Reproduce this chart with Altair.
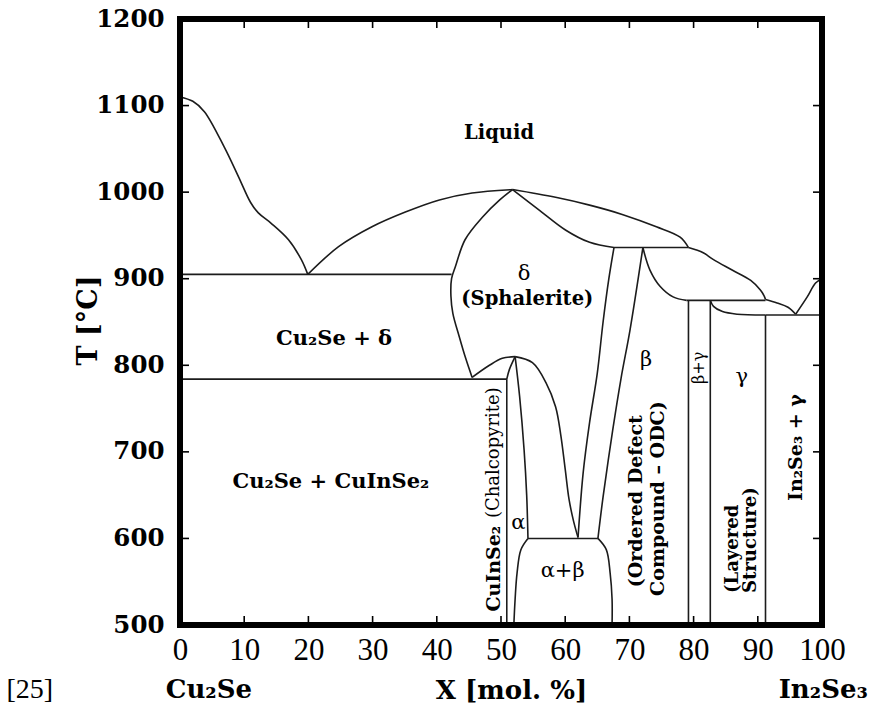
import altair as alt
import pandas as pd

# ---------------- phase boundaries: X [mol.% In2Se3], T [°C] ----------------
liq_cu2se_x = [0, 2.0, 3.8, 6.9, 9.1, 11.0, 12.2, 14.2, 16.9, 18.9, 19.9]
liq_cu2se_t = [1110, 1105, 1093, 1052, 1018, 988, 976, 964, 945, 922, 905]

liq_delta_x = [19.9, 24.7, 29.9, 35.1, 40.4, 45.5, 51.8]
liq_delta_t = [905, 937, 960, 977, 991, 999, 1003]

liq_beta_x = [51.8, 58.5, 63.8, 69.0, 74.2, 77.9, 79.2]
liq_beta_t = [1003, 994, 985, 974, 960, 948, 936]

liq_gamma_x = [79.2, 81.5, 83.1, 86.0, 88.9, 90.4, 91.0, 91.2]
liq_gamma_t = [936, 930, 922, 910, 898, 887, 880, 876]

liq_eut_x = [91.2, 93.0, 94.7, 95.9]
liq_eut_t = [876, 872, 867, 859]

liq_in2se3_x = [95.9, 97.7, 99.0, 100]
liq_in2se3_t = [859, 879, 895, 900]

delta_left_x = [51.8, 49.8, 47.1, 44.4, 42.9, 42.3, 42.2, 42.5, 43.5, 44.5, 45.5]
delta_left_t = [1003, 991, 971, 945, 914, 900, 880, 860, 833, 808, 786]

delta_low_x = [45.5, 48.2, 50.2, 52.2]
delta_low_t = [786, 800, 808, 810]

delta_beta_x = [52.2, 54.9, 57.0, 58.5, 59.3, 60.0, 60.6, 61.3, 62.0]
delta_beta_t = [810, 803, 780, 752, 720, 680, 645, 620, 601]

delta_right_x = [51.8, 56.0, 60.1, 63.8, 67.6]
delta_right_t = [1003, 979, 956, 942, 936]

alpha_left_x = [52.2, 51.3, 50.9]
alpha_left_t = [810, 795, 784]

alpha_right_x = [52.2, 52.9, 53.6, 54.0, 54.2]
alpha_right_t = [810, 764, 702, 650, 600]

ab_left_x = [54.2, 53.1, 52.5, 52.2, 52.0]
ab_left_t = [600, 587, 560, 530, 500]

ab_right_x = [65.1, 66.4, 67.0, 67.3, 67.3]
ab_right_t = [600, 587, 560, 530, 500]

beta_left_x = [62.0, 62.8, 63.8, 65.0, 65.9, 66.8, 67.6]
beta_left_t = [601, 676, 734, 791, 850, 900, 936]

beta_right_x = [65.1, 65.9, 67.4, 68.7, 70.1, 72.1]
beta_right_t = [600, 648, 725, 785, 841, 936]

beta_top_x = [72.1, 73.2, 74.8, 76.8, 78.9]
beta_top_t = [936, 910, 891, 879, 875]

gamma_top_x = [82.6, 83.1, 84.5, 86.8, 91.2]
gamma_top_t = [875, 868, 862, 859, 858]

# straight isotherms and vertical phase limits
straight = {
    "iso905": ([0, 42.3], [905, 905]),
    "iso784": ([0, 50.9], [784, 784]),
    "alpha_v": ([50.9, 50.9], [784, 500]),
    "iso600": ([54.2, 65.1], [600, 600]),
    "iso936": ([67.6, 79.2], [936, 936]),
    "iso875": ([78.9, 91.2], [875, 875]),
    "iso858": ([91.2, 100], [858, 858]),
    "v79": ([79.2, 79.2], [875, 500]),
    "v82": ([82.6, 82.6], [875, 500]),
    "v91": ([91.2, 91.2], [858, 500]),
}

curves = {
    "liq_cu2se": (liq_cu2se_x, liq_cu2se_t),
    "liq_delta": (liq_delta_x, liq_delta_t),
    "liq_beta": (liq_beta_x, liq_beta_t),
    "liq_gamma": (liq_gamma_x, liq_gamma_t),
    "liq_eut": (liq_eut_x, liq_eut_t),
    "liq_in2se3": (liq_in2se3_x, liq_in2se3_t),
    "delta_left": (delta_left_x, delta_left_t),
    "delta_low": (delta_low_x, delta_low_t),
    "delta_beta": (delta_beta_x, delta_beta_t),
    "delta_right": (delta_right_x, delta_right_t),
    "alpha_left": (alpha_left_x, alpha_left_t),
    "alpha_right": (alpha_right_x, alpha_right_t),
    "ab_left": (ab_left_x, ab_left_t),
    "ab_right": (ab_right_x, ab_right_t),
    "beta_left": (beta_left_x, beta_left_t),
    "beta_right": (beta_right_x, beta_right_t),
    "beta_top": (beta_top_x, beta_top_t),
    "gamma_top": (gamma_top_x, gamma_top_t),
}
curves.update(straight)

rows = []
for name, (xs_, ts_) in curves.items():
    for i, (xv, tv) in enumerate(zip(xs_, ts_)):
        rows.append({"seg": name, "i": i, "X": xv, "T": tv})
lines_df = pd.DataFrame(rows)

# ---------------- axes ----------------
x_ticks = [0, 10, 20, 30, 40, 50, 60, 70, 80, 90, 100]
t_ticks = [500, 600, 700, 800, 900, 1000, 1100, 1200]

W, H = 642, 606
SERIF = "DejaVu Serif"
TIMES = "Liberation Serif"

x_scale = alt.Scale(domain=[0, 100], nice=False, zero=False)
y_scale = alt.Scale(domain=[500, 1200], nice=False, zero=False)

x_axis = alt.Axis(
    values=x_ticks, ticks=False, domain=False, grid=False, format="d",
    labelFont=TIMES, labelFontSize=31, labelColor="black", labelPadding=10,
    labelFlush=False,
    title="X [mol. %]", titleFont=SERIF, titleFontWeight="bold",
    titleFontSize=26, titleColor="black",
    titleX=331, titleY=65, titleAlign="center", titleBaseline="middle",
)
y_axis = alt.Axis(
    values=t_ticks, ticks=False, domain=False, grid=False, format="d",
    labelFont=SERIF, labelFontWeight="bold", labelFontSize=24.5,
    labelColor="black", labelPadding=16,
    title="T [°C]", titleFont=SERIF, titleFontWeight="bold",
    titleFontSize=27, titleColor="black", titleAngle=270,
    titleX=-92, titleY=301, titleAlign="center", titleBaseline="middle",
)

X_ENC = alt.X("X:Q", scale=x_scale, axis=x_axis)
Y_ENC = alt.Y("T:Q", scale=y_scale, axis=y_axis)

boundaries = alt.Chart(lines_df).mark_line(
    interpolate="catmull-rom", color="#1c1c1c", strokeWidth=1.6
).encode(x=X_ENC, y=Y_ENC, detail="seg:N", order="i:Q")

# heavy frame round the plot area, one rule per side
one = pd.DataFrame({"k": [0]})
frame_style = dict(color="black", strokeWidth=6, strokeCap="square")
frame_top = alt.Chart(one).mark_rule(**frame_style).encode(
    x=alt.value(0), x2=alt.value(W), y=alt.value(0))
frame_bottom = alt.Chart(one).mark_rule(**frame_style).encode(
    x=alt.value(0), x2=alt.value(W), y=alt.value(H))
frame_left = alt.Chart(one).mark_rule(**frame_style).encode(
    y=alt.value(0), y2=alt.value(H), x=alt.value(0))
frame_right = alt.Chart(one).mark_rule(**frame_style).encode(
    y=alt.value(0), y2=alt.value(H), x=alt.value(W))

# inward tick marks on all four sides
xt_df = pd.DataFrame({"X": x_ticks})
tt_df = pd.DataFrame({"T": t_ticks})
tick_style = dict(color="black", strokeWidth=1.6)
ticks_bottom = alt.Chart(xt_df).mark_rule(**tick_style).encode(
    x=X_ENC, y=alt.value(H), y2=alt.value(H - 9))
ticks_top = alt.Chart(xt_df).mark_rule(**tick_style).encode(
    x=X_ENC, y=alt.value(0), y2=alt.value(9))
ticks_left = alt.Chart(tt_df).mark_rule(**tick_style).encode(
    y=Y_ENC, x=alt.value(0), x2=alt.value(9))
ticks_right = alt.Chart(tt_df).mark_rule(**tick_style).encode(
    y=Y_ENC, x=alt.value(W), x2=alt.value(W - 9))


def labels(texts, xv, tv, **kw):
    df = pd.DataFrame({"label": texts, "X": xv, "T": tv})
    style = dict(font=SERIF, color="black", baseline="middle", align="center")
    style.update(kw)
    return alt.Chart(df).mark_text(**style).encode(x=X_ENC, y=Y_ENC, text="label:N")


# phase field names
bold_lab = labels(
    ["Liquid", "(Sphalerite)"], [49.7, 54.1], [1068, 876],
    fontSize=19.5, fontWeight="bold")
two_phase = labels(
    ["Cu₂Se + δ", "Cu₂Se + CuInSe₂"], [24.0, 23.5], [830, 665],
    fontSize=21, fontWeight="bold")
greek_lab = labels(
    ["δ", "α", "α+β", "β", "γ"],
    [53.6, 52.7, 59.6, 72.6, 87.5], [906, 618, 562, 806, 787],
    fontSize=21)
rot_bold = labels(
    ["CuInSe₂", "(Ordered Defect", "Compound – ODC)", "In₂Se₃ + γ"],
    [48.9, 71.1, 74.5, 95.9], [565, 643, 646, 705],
    fontSize=19, fontWeight="bold", angle=270)
rot_chalco = labels(["(Chalcopyrite)"], [48.9], [699], fontSize=18, angle=270)
rot_layer = labels(
    ["(Layered", "Structure)"], [86.2, 89.0], [537, 537],
    fontSize=18, fontWeight="bold", angle=270, align="left")
rot_bg = labels(["β+γ"], [80.9], [797], fontSize=16, angle=270)

# end members and reference under the x axis
ends_df = pd.DataFrame({"label": ["Cu₂Se", "In₂Se₃"], "X": [4.5, 100.2]})
ends = alt.Chart(ends_df).mark_text(
    font=SERIF, fontWeight="bold", fontSize=26, color="black", baseline="middle"
).encode(x=X_ENC, y=alt.value(671), text="label:N")
ref_df = pd.DataFrame({"label": ["[25]"], "X": [-23.4]})
ref = alt.Chart(ref_df).mark_text(
    font=TIMES, fontSize=28, color="black", baseline="middle"
).encode(x=X_ENC, y=alt.value(671), text="label:N")

chart = alt.layer(
    boundaries, ticks_bottom, ticks_top, ticks_left, ticks_right,
    frame_top, frame_bottom, frame_left, frame_right,
    bold_lab, two_phase, greek_lab, rot_bold, rot_chalco, rot_layer, rot_bg,
    ends, ref,
).properties(
    width=W, height=H,
    background="white",
    autosize=alt.AutoSizeParams(type="none"),
    padding={"left": 180, "top": 19, "right": 48, "bottom": 86},
).configure_view(
    strokeWidth=0
)

chart.save("out.html", embed_options={"renderer": "svg", "actions": False})
